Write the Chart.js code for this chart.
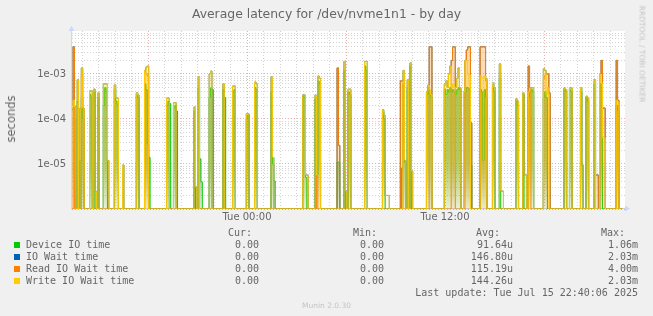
<!DOCTYPE html>
<html><head><meta charset="utf-8">
<script src="https://cdn.jsdelivr.net/npm/chart.js@4.4.0/dist/chart.umd.min.js"></script>
<style>
html,body{margin:0;padding:0;background:#f0f0f0;}
#wrap{position:relative;width:653px;height:316px;overflow:hidden;background:#f0f0f0;}
canvas{position:absolute;left:0;top:0;}
.t{position:absolute;white-space:pre;color:#666;font-family:"DejaVu Sans",sans-serif;}
.m{position:absolute;white-space:pre;color:#666;font-family:"DejaVu Sans Mono",monospace;font-size:10px;line-height:12px;}
.r{text-align:right;}
.sq{position:absolute;width:6px;height:6px;}
</style></head>
<body><div id="wrap">
<canvas id="c" width="653" height="316"></canvas>
<div class="t" style="left:0;width:653px;text-align:center;top:6px;font-size:12.4px;line-height:16px;">Average latency for /dev/nvme1n1 - by day</div>
<div class="t" style="left:11px;top:119px;font-size:11.5px;line-height:14px;transform:translate(-50%,-50%) rotate(-90deg);">seconds</div>
<div class="t" style="left:642px;top:54px;font-size:7.5px;line-height:9px;color:#c4c4c4;transform:translate(-50%,-50%) rotate(90deg);">RRDTOOL / TOBI OETIKER</div>
<div id="legend"></div>
<div class="t" style="left:0;width:653px;text-align:center;top:301px;font-size:7.5px;line-height:9px;color:#c4c4c4;">Munin 2.0.30</div>
</div>
<script>
// ---- data (5-minute slots since Mon 13:25; value in seconds) ----
const slots = [
 0,1,2,3,4,5,6,7,8,9,
 12,13,14,15,16,17,18,19,20,
 22,23,24,25,26,27,
 30,31,32,33,34,
 36,37,38,
 46,47,48,49,
 52,53,54,55,56,57,
 68,69,70,71,72,73,74,75,76,77,
 88,89,90,91,92,93,94,95,
 99,100,101,102,103,
 109,110,111,112,
 116,117,118,119,
 126,127,128,129,
 132,133,134,135,
 144,145,146,147,148,
 167,168,169,170,171,172,
 176,177,178,179,180,181,
 192,193,194,195,
 197,198,199,200,201,202,203,
 212,213,214,215,
 225,226,227,228,229,230,231,
 238,239,240,241,242,243,244,245,246,247,248,
 257,258,259,260,261,262,
 270,271,272,273,274,275,276,277,278,279,280,281,282,283,284,285,286,287,288,289,290,291,
 296,297,298,299,300,301,302,
 305,306,307,308,
 310,311,312,313,314,
 322,323,324,325,
 327,328,329,330,331,332,333,334,335,336,
 342,343,344,345,346,347,348,
 357,358,359,360,361,362,363,364,
 369,370,371,372,373,374,375,376,
 379,380,381,382,383,384,385,386,387,388,
 395,396,397,398,400
];
const deviceIO = [
 1.6e-4,1.8e-4,1.0e-4,0,2.5e-4,0,1.2e-5,3.0e-4,1.0e-4,0,
 0,3.5e-4,3.0e-4,0,4.0e-4,0,0,3.0e-4,0,
 0,2.0e-4,5.0e-4,4.0e-4,0,0,
 0,4.5e-4,2.5e-4,2.0e-4,0,
 0,0,0,
 0,3.3e-4,3.0e-4,0,
 0,6.0e-4,4.5e-4,2.8e-5,1.4e-5,0,
 0,2.0e-4,2.5e-4,2.2e-4,0,0,1.8e-4,2.0e-4,1.5e-4,0,
 0,1.5e-4,0,0,5.0e-4,1.3e-5,4.0e-6,0,
 0,3.0e-4,4.9e-4,4.5e-4,0,
 0,4.5e-4,3.0e-4,0,
 0,4.0e-4,4.5e-4,0,
 0,1.0e-4,1.2e-4,0,
 0,5.0e-4,4.5e-4,0,
 0,4.0e-4,1.0e-5,4.2e-6,0,
 0,3.4e-4,3.0e-4,5.0e-6,0,0,
 0,2.8e-4,5.7e-6,7.0e-4,6.0e-4,0,
 0,1.1e-5,1.1e-5,0,
 0,1.2e-3,0,0,4.0e-4,3.5e-4,0,
 0,1.5e-3,1.2e-3,0,
 0,1.4e-4,1.0e-4,0,0,0,0,
 0,0,8.2e-6,6.0e-4,1.1e-5,0,5.0e-4,0,1.5e-3,0,0,
 0,3.5e-4,5.0e-4,3.5e-4,3.0e-4,0,
 0,4.5e-4,3.5e-4,4.5e-4,4.0e-4,5.0e-4,4.0e-4,4.5e-4,4.0e-4,3.5e-4,4.5e-4,5.0e-4,4.5e-4,0,0,3.0e-4,4.0e-4,5.0e-4,4.9e-4,4.5e-4,9.5e-6,0,
 0,4.5e-4,4.0e-4,1.2e-5,4.5e-4,3.0e-4,0,
 0,5.0e-4,4.0e-4,0,
 0,8.0e-4,0,0,0,
 0,2.5e-4,2.0e-4,0,
 0,3.5e-4,0,0,0,3.0e-4,4.0e-4,4.5e-4,4.0e-4,0,
 0,3.0e-4,4.0e-4,3.0e-4,0,0,0,
 0,4.5e-4,4.0e-4,0,0,4.5e-4,4.0e-4,0,
 0,4.0e-4,9.5e-6,0,0,3.0e-4,2.5e-4,0,
 0,6.0e-4,0,0,0,6.0e-4,5.0e-4,0,0,0,
 0,2.0e-4,1.5e-4,0,0
];
const ioWait = [
 2.0e-4,4.0e-3,1.9e-4,0,7.4e-4,0,1.75e-4,1.36e-3,1.75e-4,0,
 0,4.2e-4,4.2e-4,0,4.6e-4,2.5e-6,0,3.8e-4,0,
 0,6.0e-4,6.0e-4,6.0e-4,1.2e-5,0,
 0,5.7e-4,2.9e-4,2.9e-4,0,
 0,9.5e-6,0,
 0,3.8e-4,3.4e-4,0,
 0,1.2e-3,1.43e-3,1.5e-3,0,0,
 0,2.9e-4,2.9e-4,0,0,0,2.3e-4,2.3e-4,0,0,
 0,1.85e-4,3.1e-6,0,8.6e-4,0,0,0,
 0,1.0e-3,1.16e-3,0,0,
 0,6.0e-4,0,0,
 0,5.4e-4,5.4e-4,0,
 0,1.3e-4,1.3e-4,0,
 0,6.6e-4,6.0e-4,0,
 0,8.6e-4,1.4e-5,0,0,
 0,3.4e-4,3.4e-4,5.7e-6,5.7e-6,0,
 0,3.4e-4,5.7e-6,9.0e-4,8.0e-4,0,
 0,1.36e-3,2.6e-5,0,
 0,1.9e-3,2.5e-6,0,4.6e-4,4.6e-4,0,
 0,1.9e-3,1.9e-3,0,
 0,1.6e-4,1.2e-4,2.0e-6,2.0e-6,2.0e-6,0,
 0,7.0e-4,7.0e-4,1.2e-3,1.2e-5,0,7.4e-4,0,1.76e-3,7.0e-6,0,
 0,4.0e-4,5.7e-4,4.0e-3,4.0e-3,0,
 0,6.0e-4,7.0e-4,5.0e-4,1.0e-3,1.5e-3,2.0e-3,4.0e-3,4.0e-3,5.0e-4,8.0e-4,1.36e-3,5.0e-4,0,0,4.0e-4,2.0e-3,3.4e-3,4.0e-3,4.0e-3,8.2e-5,0,
 0,4.0e-3,4.0e-3,4.0e-3,4.0e-3,8.0e-4,0,
 0,6.3e-4,5.0e-4,0,
 0,1.67e-3,2.5e-6,2.5e-6,0,
 0,2.8e-4,2.5e-4,0,
 0,3.8e-4,5.7e-6,5.7e-6,0,1.5e-3,4.9e-4,4.9e-4,4.9e-4,0,
 0,1.3e-3,1.2e-3,1.0e-3,1.0e-3,3.8e-4,0,
 0,4.9e-4,4.5e-4,0,0,4.9e-4,4.9e-4,0,
 0,4.9e-4,9.5e-6,0,0,3.2e-4,3.0e-4,0,
 0,7.4e-4,5.7e-6,5.7e-6,0,1.0e-3,2.0e-3,1.75e-4,1.75e-4,0,
 0,2.0e-3,2.6e-4,0,0
];
const readWait = [
 0,4.0e-3,0,0,0,0,0,1.0e-3,1.7e-4,0,
 0,0,0,0,0,0,0,0,0,
 0,0,0,0,0,0,
 0,0,0,0,0,
 0,0,0,
 0,0,0,0,
 0,1.17e-3,1.0e-3,9.0e-4,0,0,
 0,0,0,0,0,0,0,0,0,0,
 0,0,0,0,0,0,0,0,
 0,0,0,0,0,
 0,0,0,0,
 0,0,0,0,
 0,0,0,0,
 0,0,0,0,
 0,0,0,0,0,
 0,0,0,0,0,0,
 0,0,5.7e-6,0,0,0,
 0,1.36e-3,2.6e-5,0,
 0,0,0,0,0,0,0,
 0,0,0,0,
 0,0,0,0,0,0,0,
 0,7.0e-4,7.0e-4,0,0,0,0,0,0,0,0,
 0,0,0,4.0e-3,4.0e-3,0,
 0,0,0,0,0,0,2.0e-3,4.0e-3,4.0e-3,0,0,0,0,0,0,0,2.0e-3,3.4e-3,4.0e-3,4.0e-3,8.2e-5,0,
 0,4.0e-3,4.0e-3,4.0e-3,4.0e-3,7.0e-4,0,
 0,0,0,0,
 0,0,0,0,0,
 0,0,0,0,
 0,0,0,0,0,1.5e-3,4.9e-4,0,0,0,
 0,8.0e-4,9.5e-4,1.0e-3,1.0e-3,3.8e-4,0,
 0,0,0,0,0,0,0,0,
 0,0,0,0,0,0,0,0,
 0,0,5.7e-6,5.7e-6,0,1.0e-3,2.0e-3,1.75e-4,1.75e-4,0,
 0,2.0e-3,2.6e-4,0,0
];
const writeWait = [
 2.0e-4,2.6e-4,1.9e-4,0,7.4e-4,0,1.75e-4,1.36e-3,1.75e-4,0,
 0,4.2e-4,4.2e-4,0,4.6e-4,2.5e-6,0,3.8e-4,0,
 0,6.0e-4,6.0e-4,6.0e-4,1.2e-5,0,
 0,5.7e-4,2.9e-4,2.9e-4,0,
 0,9.5e-6,0,
 0,3.8e-4,3.4e-4,0,
 0,1.2e-3,1.43e-3,1.5e-3,0,0,
 0,2.9e-4,2.9e-4,0,0,0,2.3e-4,2.3e-4,0,0,
 0,1.85e-4,3.1e-6,0,8.6e-4,0,0,0,
 0,1.0e-3,1.16e-3,0,0,
 0,6.0e-4,0,0,
 0,5.4e-4,5.4e-4,0,
 0,1.3e-4,1.3e-4,0,
 0,6.6e-4,6.0e-4,0,
 0,8.6e-4,1.4e-5,0,0,
 0,3.4e-4,3.4e-4,5.7e-6,5.7e-6,0,
 0,3.4e-4,5.7e-6,9.0e-4,8.0e-4,0,
 0,0,0,0,
 0,1.9e-3,2.5e-6,0,4.6e-4,4.6e-4,0,
 0,1.9e-3,1.9e-3,0,
 0,1.6e-4,1.2e-4,2.0e-6,2.0e-6,2.0e-6,0,
 0,0,0,1.2e-3,1.2e-5,0,7.4e-4,0,1.76e-3,7.0e-6,0,
 0,4.0e-4,5.7e-4,4.5e-4,3.5e-4,0,
 0,6.0e-4,7.0e-4,5.0e-4,1.0e-3,1.5e-3,5.0e-4,6.0e-4,5.0e-4,5.0e-4,8.0e-4,1.36e-3,5.0e-4,0,0,4.0e-4,2.0e-3,2.0e-3,9.5e-4,9.5e-4,0,0,
 0,9.0e-4,8.5e-4,8.0e-4,9.0e-4,8.0e-4,0,
 0,6.3e-4,5.0e-4,0,
 0,1.67e-3,2.5e-6,2.5e-6,0,
 0,2.8e-4,2.5e-4,0,
 0,3.8e-4,5.7e-6,5.7e-6,0,4.0e-4,4.9e-4,4.9e-4,4.9e-4,0,
 0,1.3e-3,1.2e-3,3.4e-4,5.0e-4,0,0,
 0,4.9e-4,4.5e-4,0,0,4.9e-4,4.9e-4,0,
 0,4.9e-4,9.5e-6,0,0,3.2e-4,3.0e-4,0,
 0,7.4e-4,0,0,0,1.0e-3,6.3e-4,3.8e-5,3.8e-5,0,
 0,2.6e-4,2.4e-4,0,0
];
const seriesNames = ['Device IO time','IO Wait time','Read IO Wait time','Write IO Wait time'];
const seriesColors = ['#00CC00','#0066B3','#FF8000','#FFCC00'];
const legendCur = ['0.00','0.00','0.00','0.00'];
const legendMin = ['0.00','0.00','0.00','0.00'];
const legendAvg = ['91.64u','146.80u','115.19u','144.26u'];
const legendMax = ['1.06m','2.03m','4.00m','2.03m'];
const lastUpdate = 'Last update: Tue Jul 15 22:40:06 2025';
const xTickTimes = [1440, 2160];            // minutes since Mon 00:00
const xTickLabels = ['Tue 00:00', 'Tue 12:00'];
const yTickValues = [1e-3, 1e-4, 1e-5];
const yTickLabels = ['1e-03', '1e-04', '1e-05'];

// ---- layout / style constants ----
const SLOT_START = 805, SLOT_LEN = 5;
const X_MIN = 803.6, X_MAX = 2814.5;
const Y_MIN = 1e-6, Y_MAX = 9e-3;
// translucent under-line shading (visual blend of the dense antialiased lines)
const fillStyles = [
  { rgb: [30,140,10], a: [0.58, 0.48, 0.1] },
  null,
  { rgb: [255,128,0], a: [0.3, 0.25, 0.05] },
  { rgb: [255,204,0], a: [0.35, 0.3, 0.06] }
];

[deviceIO, ioWait, readWait, writeWait].forEach((a, k) => {
  if (a.length !== slots.length) console.error('length mismatch', k, a.length, slots.length);
});

function fillFor(fs){
  const [r,g,b] = fs.rgb;
  return (ctx) => {
    const a = ctx.chart.chartArea;
    if (!a) return `rgba(${r},${g},${b},${fs.a[1]})`;
    const gr = ctx.chart.ctx.createLinearGradient(0, a.top, 0, a.bottom);
    gr.addColorStop(0, `rgba(${r},${g},${b},${fs.a[0]})`);
    gr.addColorStop(0.72, `rgba(${r},${g},${b},${fs.a[1]})`);
    gr.addColorStop(1, `rgba(${r},${g},${b},${fs.a[2]})`);
    return gr;
  };
}
const allSeries = [deviceIO, ioWait, readWait, writeWait];
const datasets = allSeries.map((vals, k) => ({
  label: seriesNames[k],
  data: slots.map((s, i) => ({ x: SLOT_START + SLOT_LEN * s, y: vals[i] > 0 ? vals[i] : Y_MIN })),
  borderColor: seriesColors[k],
  backgroundColor: fillStyles[k] ? fillFor(fillStyles[k]) : 'rgba(0,0,0,0)',
  fill: fillStyles[k] ? 'start' : false,
  borderWidth: 1,
  pointRadius: 0,
  stepped: 'middle',
  order: 4 - k
}));

// legend (HTML text)
const lg = document.getElementById('legend');
function addText(cls, text, style){ const d = document.createElement('div'); d.className = cls; d.textContent = text; d.setAttribute('style', style); lg.appendChild(d); }
const hdrY = 227, rowY0 = 238.5, rowDY = 12;
addText('m r', 'Cur:', `right:${653-252}px;top:${hdrY}px;`);
addText('m r', 'Min:', `right:${653-377}px;top:${hdrY}px;`);
addText('m r', 'Avg:', `right:${653-500}px;top:${hdrY}px;`);
addText('m r', 'Max:', `right:${653-625}px;top:${hdrY}px;`);
seriesNames.forEach((n, k) => {
  const y = rowY0 + rowDY * k;
  const sq = document.createElement('div'); sq.className = 'sq';
  sq.style.left = '14px'; sq.style.top = (y + 3) + 'px'; sq.style.background = seriesColors[k]; lg.appendChild(sq);
  addText('m', n, `left:26px;top:${y}px;`);
  addText('m r', legendCur[k], `right:${653-259}px;top:${y}px;`);
  addText('m r', legendMin[k], `right:${653-384}px;top:${y}px;`);
  addText('m r', legendAvg[k], `right:${653-513}px;top:${y}px;`);
  addText('m r', legendMax[k], `right:${653-638}px;top:${y}px;`);
});
addText('m r', lastUpdate, `right:${653-638}px;top:${rowY0 + rowDY*4}px;`);

// ticks / grid
const yGrid = [];
for (let e = -6; e <= -3; e++) for (let m = 1; m <= 9; m++) { const v = m * Math.pow(10, e); if (v <= 8.01e-3) yGrid.push(v); }
const xGrid = [];
for (let t = 840; t <= 2760; t += 60) xGrid.push(t);
const GRID = 'rgba(150,150,150,0.42)';
const MGRID = 'rgba(222,90,90,0.5)';
function isDecade(v){ const l = Math.log10(v); return Math.abs(l - Math.round(l)) < 1e-6; }

const axisPlugin = {
  id: 'munin',
  beforeDraw(chart){
    const {ctx, chartArea:a} = chart;
    ctx.save(); ctx.fillStyle = '#ffffff';
    ctx.fillRect(a.left, a.top, a.right - a.left, a.bottom - a.top);
    ctx.restore();
  },
  beforeDatasetsDraw(chart){
    const {ctx, chartArea:a} = chart;
    ctx.save();
    ctx.strokeStyle = '#CFD6F8'; ctx.fillStyle = '#CFD6F8'; ctx.lineWidth = 1;
    ctx.beginPath();
    ctx.moveTo(a.left - 0.5, a.bottom + 0.5); ctx.lineTo(a.left - 0.5, a.top - 1);
    ctx.moveTo(a.left - 1, a.bottom - 0.5); ctx.lineTo(a.right + 1, a.bottom - 0.5);
    ctx.stroke();
    ctx.beginPath();
    ctx.moveTo(a.left - 3.5, a.top); ctx.lineTo(a.left + 2.5, a.top); ctx.lineTo(a.left - 0.5, a.top - 5); ctx.closePath(); ctx.fill();
    ctx.beginPath();
    ctx.moveTo(a.right, a.bottom - 3.5); ctx.lineTo(a.right, a.bottom + 2.5); ctx.lineTo(a.right + 5, a.bottom - 0.5); ctx.closePath(); ctx.fill();
    ctx.restore();
  }
};

new Chart(document.getElementById('c'), {
  type: 'line',
  data: { datasets },
  plugins: [axisPlugin],
  options: {
    responsive: false, animation: false, devicePixelRatio: 1,
    layout: { padding: { left: 0, right: 653 - 625, top: 31, bottom: 316 - 209 - 20 } },
    plugins: { legend: { display: false }, tooltip: { enabled: false }, title: { display: false } },
    scales: {
      x: {
        type: 'linear', min: X_MIN, max: X_MAX,
        afterBuildTicks: (s) => { s.ticks = xGrid.map(v => ({ value: v })); },
        afterFit: (s) => { s.height = 20; },
        ticks: {
          autoSkip: false, maxRotation: 0, minRotation: 0, padding: 2,
          color: '#666', font: { family: 'DejaVu Sans', size: 10 },
          callback: (v) => { const i = xTickTimes.indexOf(v); return i >= 0 ? xTickLabels[i] : ''; }
        },
        grid: { drawTicks: false, lineWidth: 1, color: (c) => (c.tick && c.tick.value % 360 === 0) ? MGRID : GRID },
        border: { display: false, dash: [1, 2] }
      },
      y: {
        type: 'logarithmic', min: Y_MIN, max: Y_MAX,
        afterBuildTicks: (s) => { s.ticks = yGrid.map(v => ({ value: v })); },
        afterFit: (s) => { s.width = 72; },
        ticks: {
          autoSkip: false, padding: 6,
          color: '#666', font: { family: 'DejaVu Sans', size: 10 },
          callback: (v) => { for (let i = 0; i < yTickValues.length; i++) if (Math.abs(v / yTickValues[i] - 1) < 1e-6) return yTickLabels[i]; return ''; }
        },
        grid: { drawTicks: false, lineWidth: 1, color: (c) => (c.tick && isDecade(c.tick.value)) ? MGRID : GRID },
        border: { display: false, dash: [1, 2] }
      }
    }
  }
});
</script>
</body></html>
